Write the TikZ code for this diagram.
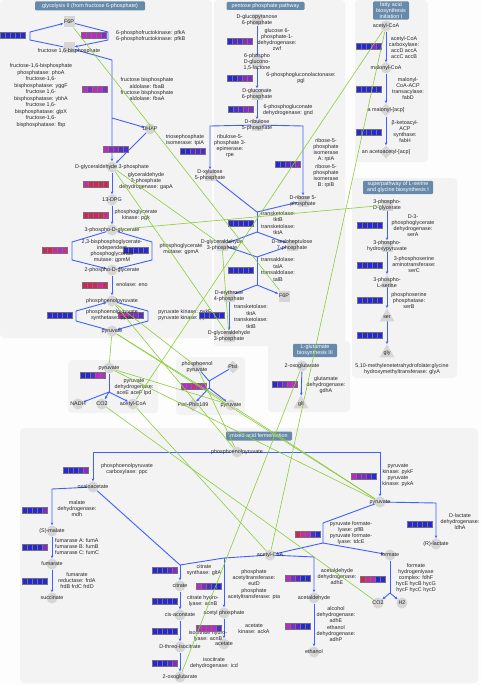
\documentclass[tikz,border=0pt]{standalone}
\usepackage{fontspec}
\setmainfont{Liberation Sans}
\usetikzlibrary{arrows.meta,shapes.geometric}
\definecolor{bgc}{RGB}{253,253,253}
\definecolor{panc}{RGB}{243,243,243}
\definecolor{mg}{RGB}{214,214,214}
\definecolor{blc}{RGB}{64,96,255}
\definecolor{grc}{RGB}{140,205,60}
\definecolor{ttc}{RGB}{104,138,170}
\definecolor{bA}{RGB}{38,38,220}
\definecolor{bB}{RGB}{85,40,215}
\definecolor{bC}{RGB}{135,40,205}
\definecolor{bD}{RGB}{190,40,200}
\definecolor{bE}{RGB}{210,40,150}
\definecolor{bF}{RGB}{215,35,90}
\pgfdeclarelayer{bg}\pgfdeclarelayer{ln}\pgfdeclarelayer{top}
\pgfsetlayers{bg,ln,main,top}
\newcommand\xpbar[7]{%
 \draw[bar,fill=#3] (#1,#2) rectangle ++(5,6);
 \draw[bar,fill=#4] (#1+5,#2) rectangle ++(5,6);
 \draw[bar,fill=#5] (#1+10,#2) rectangle ++(5,6);
 \draw[bar,fill=#6] (#1+15,#2) rectangle ++(5,6);
 \draw[bar,fill=#7] (#1+20,#2) rectangle ++(5,6);}
\newcommand\metc[4]{\node[mc,label={[lb]center:{#4}}] (#1) at (#2,#3) {};}
\newcommand\mets[4]{\node[ms,label={[lb]center:{#4}}] (#1) at (#2,#3) {};}
\newcommand\metd[4]{\node[md,label={[lb]center:{#4}}] (#1) at (#2,#3) {};}
\newcommand\mett[4]{\node[mt,label={[lb]center:{#4}}] (#1) at (#2,#3) {};}
\begin{document}
\begin{tikzpicture}[x=1pt,y=-1pt,
  lb/.style={font=\fontsize{5.4}{6}\selectfont, align=center, inner sep=0pt, text=black!85},
  mc/.style={circle, fill=mg, minimum size=11pt, inner sep=0pt},
  ms/.style={rectangle, fill=mg, minimum size=11pt, inner sep=0pt},
  md/.style={diamond, fill=mg, minimum size=13pt, inner sep=0pt},
  mt/.style={regular polygon, regular polygon sides=3, fill=mg, minimum size=17pt, inner sep=0pt},
  bl/.style={draw=blc, line width=0.9pt},
  ar/.style={-{Stealth[length=3pt,width=2.6pt]}},
  gl/.style={draw=grc, line width=0.6pt},
  bar/.style={draw=black!55, line width=0.3pt},
  pan/.style={fill=panc, rounded corners=4pt},
  ttl/.style={fill=ttc, text=white, rounded corners=1.2pt, inner sep=1.2pt, align=center, font=\fontsize{5.4}{6}\selectfont}]
\useasboundingbox (0,0) rectangle (481,685);
\begin{pgfonlayer}{bg}
\fill[bgc] (0,0) rectangle (481,685);
\fill[pan] (0,0) rectangle (212,338);
\fill[pan] (214,0) rectangle (345,346);
\fill[pan] (355,0) rectangle (428,162);
\fill[pan] (352,178) rectangle (457,378);
\fill[pan] (68,360) rectangle (158,413);
\fill[pan] (176,357) rectangle (245,415);
\fill[pan] (268,341) rectangle (350,412);
\fill[pan] (20,428) rectangle (478,683);
\end{pgfonlayer}
% titles
\node[ttl, minimum width=110pt, minimum height=9pt] (t1) at (90,6) {glycolysis II (from fructose 6-phosphate)};
\node[ttl, minimum width=78pt, minimum height=8pt] (t2) at (265.5,6) {pentose phosphate pathway};
\node[ttl, minimum width=36pt] (t3) at (391,10.5) {fatty acid\\biosynthesis\\initiation I};
\node[ttl, minimum width=70pt] (t4) at (398,187.5) {superpathway of L-serine\\and glycine biosynthesis I};
\node[ttl, minimum width=44pt] (t5) at (315,350.5) {L-glutamate\\biosynthesis III};
\node[ttl, minimum width=66pt, minimum height=9pt] (t6) at (259,436) {mixed acid fermentation};
% bars
\xpbar{0}{32}{bA}{bA}{bA}{bA}{bA}
\xpbar{81}{32}{bD}{bD}{bD}{bD}{bC}
\xpbar{82}{86}{bD}{bC}{bD}{bD}{bC}
\xpbar{103}{146}{bD}{bC}{bC}{bB}{bB}
\xpbar{83}{181}{bE}{bF}{bF}{bF}{bF}
\xpbar{83}{212}{bF}{bF}{bF}{bF}{bE}
\xpbar{42}{247}{bF}{bF}{bE}{bD}{bE}
\xpbar{123}{247}{bA}{bA}{bA}{bA}{bA}
\xpbar{82}{282}{bF}{bF}{bF}{bE}{bF}
\xpbar{47}{312}{bA}{bA}{bA}{bA}{bA}
\xpbar{118}{312}{bD}{bD}{bC}{bC}{bB}
\xpbar{227}{38}{bA}{bB}{bB}{bC}{bC}
\xpbar{227}{75}{bA}{bA}{bB}{bC}{bC}
\xpbar{228}{106}{bA}{bB}{bB}{bC}{bC}
\xpbar{180}{148}{bA}{bA}{bB}{bB}{bB}
\xpbar{275}{161}{bA}{bA}{bB}{bB}{bC}
\xpbar{228}{220}{bA}{bA}{bA}{bA}{bA}
\xpbar{228}{267}{bA}{bA}{bA}{bA}{bA}
\xpbar{356}{43}{bA}{bA}{bA}{bC}{bB}
\xpbar{356}{86}{bA}{bA}{bA}{bA}{bA}
\xpbar{356}{129}{bA}{bA}{bA}{bA}{bA}
\xpbar{357}{222}{bA}{bA}{bA}{bA}{bA}
\xpbar{357}{262}{bA}{bA}{bA}{bA}{bA}
\xpbar{357}{297}{bA}{bA}{bA}{bA}{bA}
\xpbar{357}{332}{bA}{bA}{bA}{bA}{bA}
\xpbar{272}{381}{bA}{bB}{bC}{bD}{bD}
\xpbar{80}{372}{bA}{bA}{bB}{bD}{bD}
\xpbar{181}{383}{bD}{bD}{bE}{bD}{bD}
\xpbar{63}{467}{bA}{bA}{bA}{bB}{bC}
\xpbar{22}{507}{bA}{bA}{bA}{bA}{bC}
\xpbar{22}{544}{bA}{bA}{bA}{bA}{bC}
\xpbar{22}{578}{bA}{bA}{bA}{bA}{bA}
\xpbar{351}{473}{bD}{bC}{bC}{bB}{bA}
\xpbar{407}{521}{bA}{bA}{bA}{bA}{bA}
\xpbar{295}{531}{bF}{bE}{bD}{bB}{bA}
\xpbar{360}{576}{bF}{bE}{bD}{bA}{bA}
\xpbar{152}{567}{bA}{bA}{bA}{bB}{bC}
\xpbar{152}{598}{bA}{bA}{bA}{bA}{bA}
\xpbar{152}{628}{bA}{bA}{bA}{bA}{bA}
\xpbar{152}{660}{bA}{bA}{bA}{bB}{bC}
\xpbar{196}{583}{bD}{bC}{bB}{bA}{bA}
\xpbar{285}{575}{bD}{bC}{bB}{bA}{bA}
\xpbar{285}{623}{bD}{bC}{bB}{bA}{bA}
% glycolysis metabolites
\mets{f6p}{69}{22}{F6P}
\node[ms,label={[lb,yshift=-3pt]center:{fructose 1,6-bisphosphate}}] (fbp) at (69,48) {};
\metc{dhap}{150}{129}{DHAP}
\metc{g3p}{112}{167}{D-glyceraldehyde 3-phosphate}
\metc{dpg}{112}{200}{13-DPG}
\metc{pg3}{112}{230}{3-phospho-D-glycerate}
\metc{pg2}{112}{270}{2-phospho-D-glycerate}
\metc{pep}{112}{301}{phosphoenolpyruvate}
\metc{pyr}{112}{331}{pyruvate}
% glycolysis labels
\node[lb, align=left, anchor=west] (lpfk) at (116,36) {6-phosphofructokinase: pfkA\\6-phosphofructokinase: pfkB};
\node[lb, font=\fontsize{5.4}{6.5}\selectfont] (lfbp) at (41,95.5) {fructose-1,6-bisphosphate\\phosphatase: phoA\\fructose-1,6-\\bisphosphatase: yggF\\fructose 1,6-\\bisphosphatase: ybhA\\fructose 1,6-\\bisphosphatase: glpX\\fructose-1,6-\\bisphosphatase: fbp};
\node[lb, font=\fontsize{5.4}{6.3}\selectfont] (lfba) at (147,89.5) {fructose bisphosphate\\aldolase: fbaB\\fructose bisphosphate\\aldolase: fbaA};
\node[lb] (ltpi) at (185,140) {triosephosphate\\isomerase: tpiA};
\node[lb] (lgap) at (146,181.5) {glyceraldehyde\\3-phosphate\\dehydrogenase: gapA};
\node[lb] (lpgk) at (136,215.5) {phosphoglycerate\\kinase: pgk};
\node[lb] (lgpm) at (112,251) {2,3-bisphosphoglycerate-\\independent\\phosphoglycerate\\mutase: gpmM};
\node[lb] (lgpa) at (181,249) {phosphoglycerate\\mutase: gpmA};
\node[lb] (leno) at (132,285) {enolase: eno};
\node[lb] (lpps) at (112,315) {phosphoenolpyruvate\\synthetase: ppsA};
\node[lb] (lpyk) at (185,315) {pyruvate kinase: pykF\\pyruvate kinase: pykA};
\xpbar{199}{312}{bA}{bA}{bA}{bA}{bA}
% pentose
\mets{g6p}{257}{20}{D-glucopyranose\\6-phosphate}
\mets{pgln}{257}{62}{6-phospho\\D-glucono-\\1,5-lactone}
\mets{glcn}{257}{94}{D-gluconate\\6-phosphate}
\mets{ru5p}{257}{125}{D-ribulose\\5-phosphate}
\mets{xu5p}{210}{175}{D-xylulose\\5-phosphate}
\mets{r5p}{303}{201}{D-ribose 5-\\phosphate}
\mets{g3pp}{222}{245}{D-glyceraldehyde\\3-phosphate}
\mets{s7p}{292}{245}{D-sedoheptulose\\7-phosphate}
\mets{e4p}{229}{296}{D-erythrose\\4-phosphate}
\mets{f6pp}{284}{296}{F6P}
\mets{g3pq}{229}{336}{D-glyceraldehyde\\3-phosphate}
\node[lb] (lzwf) at (277,40) {glucose 6-\\phosphate-1-\\dehydrogenase:\\zwf};
\node[lb] (lpgl) at (301,78) {6-phosphogluconolactonase:\\pgl};
\node[lb] (lgnd) at (288,110) {6-phosphogluconate\\dehydrogenase: gnd};
\node[lb] (lrpe) at (230,146) {ribulose-5-\\phosphate 3-\\epimerase:\\rpe};
\node[lb] (lrpa) at (326,150) {ribose-5-\\phosphate\\isomerase\\A: rpiA};
\node[lb] (lrpb) at (326,176) {ribose-5-\\phosphate\\isomerase\\B: rpiB};
\node[lb, font=\fontsize{5.4}{6.5}\selectfont] (ltk1) at (278,223) {transketolase:\\tktB\\transketolase:\\tktA};
\node[lb, font=\fontsize{5.4}{6.5}\selectfont] (ltal) at (278,269.5) {transaldolase:\\talA\\transaldolase:\\talB};
\node[lb, font=\fontsize{5.4}{6.5}\selectfont] (ltk2) at (251,316.5) {transketolase:\\tktA\\transketolase:\\tktB};
% fatty acid
\metc{acf}{386}{26}{acetyl-CoA}
\metc{mal}{386}{68}{malonyl-CoA}
\metd{macp}{386}{110}{a malonyl-[acp]}
\metd{aacp}{386}{152}{an acetoacetyl-[acp]}
\node[lb] (lacc) at (404,48) {acetyl-CoA\\carboxylase:\\accD accA\\accC accB};
\node[lb] (lfabd) at (408,89) {malonyl-\\CoA-ACP\\transacylase:\\fabD};
\node[lb] (lfabh) at (405,132) {β-ketoacyl-\\ACP\\synthase:\\fabH};
% serine
\mets{pgs}{387}{205}{3-phospho-\\D-glycerate}
\mets{php}{387}{246}{3-phospho-\\hydroxypyruvate}
\mett{pser}{387}{283}{3-phospho-\\L-serine}
\mett{ser}{387}{317}{ser}
\mett{gly}{387}{353}{gly}
\node[lb] (lsera) at (413,225.5) {D-3-\\phosphoglycerate\\dehydrogenase:\\serA};
\node[lb] (lserc) at (414,265) {3-phosphoserine\\aminotransferase:\\serC};
\node[lb] (lserb) at (409,301) {phosphoserine\\phosphatase:\\serB};
\node[lb] (lgly) at (402,369) {5,10-methylenetetrahydrofolate:glycine\\hydroxymethyltransferase: glyA};
% glutamate
\metc{og}{302}{366}{2-oxoglutarate}
\mett{glt}{301}{404}{glt}
\node[lb] (lgdh) at (326,385) {glutamate\\dehydrogenase:\\gdhA};
% PDH
\metc{pyrd}{109}{368}{pyruvate}
\metc{nadh}{78}{404}{NADH}
\metc{co2d}{102}{404}{CO2}
\metc{acd}{133}{404}{acetyl-CoA}
\node[lb] (lpdh) at (134,387) {pyruvate\\dehydrogenase:\\aceE aceF lpd};
% PTS
\metc{pepp}{197}{367}{phosphoenol\\pyruvate}
\metd{ptsi}{233}{367}{PtsI}
\metd{ptsp}{193}{405}{PtsI-Phis189}
\metc{pyrp}{231}{405}{pyruvate}
% mixed acid
\metc{pepm}{237}{452}{phosphoenolpyruvate}
\metc{oaa}{93}{487}{oxaloacetate}
\metc{malm}{52}{531}{(S)-malate}
\metc{fum}{52}{564}{fumarate}
\metc{suc}{52}{598}{succinate}
\metc{cit}{180}{586}{citrate}
\metc{cis}{180}{615}{cis-aconitate}
\metc{icit}{180}{647}{D-threo-isocitrate}
\metc{ogm}{180}{677}{2-oxoglutarate}
\metc{acm}{270}{555}{acetyl-CoA}
\metc{acp}{224}{613}{acetyl phosphate}
\metc{ace}{224}{644}{acetate}
\metc{acald}{314}{598}{acetaldehyde}
\metc{eth}{314}{652}{ethanol}
\metc{pyrm}{380}{502}{pyruvate}
\metc{lac}{436}{544}{(R)-lactate}
\metc{frm}{390}{555}{formate}
\metc{co2m}{378}{603}{CO2}
\metc{h2}{402}{603}{H2}
\node[lb] (lppc) at (127,469) {phosphoenolpyruvate\\carboxylase: ppc};
\node[lb] (lmdh) at (77,509) {malate\\dehydrogenase:\\mdh};
\node[lb, align=left, anchor=west] (lfum) at (55,547) {fumarase A: fumA\\fumarase B: fumB\\fumarase C: fumC};
\node[lb] (lfrd) at (77,581) {fumarate\\reductase: frdA\\frdB frdC frdD};
\node[lb] (lglt) at (204,570) {citrate\\synthase: gltA};
\node[lb] (lacn) at (203,601) {citrate hydro-\\lyase: acnB};
\node[lb] (lacn2) at (208,636) {isocitrate hydro-\\lyase: acnB};
\node[lb] (licd) at (214,663) {isocitrate\\dehydrogenase: icd};
\node[lb] (leut) at (254,578) {phosphate\\acetyltransferase:\\eutD};
\node[lb] (lpta) at (254,594) {phosphate\\acetyltransferase: pta};
\node[lb] (lack) at (254,629) {acetate\\kinase: ackA};
\xpbar{196}{625}{bD}{bD}{bD}{bD}{bB}
\node[lb] (ladh1) at (337,577) {acetaldehyde\\dehydrogenase:\\adhE};
\node[lb] (ladh2) at (336,615) {alcohol\\dehydrogenase:\\adhE};
\node[lb] (ladh3) at (336,634) {ethanol\\dehydrogenase:\\adhP};
\node[lb] (lpykm) at (398,475) {pyruvate\\kinase: pykF\\pyruvate\\kinase: pykA};
\node[lb] (lldh) at (460,522) {D-lactate\\dehydrogenase:\\ldhA};
\node[lb] (lpfl) at (351,533.5) {pyruvate formate-\\lyase: pflB\\pyruvate formate-\\lyase: tdcE};
\node[lb] (lfhl) at (416,578.5) {formate\\hydrogenlyase\\complex: fdhF\\hycE hycB hycG\\hycF hycC hycD};
% coordinates
\coordinate (pl1) at (30,32); \coordinate (pl2) at (30,40);
\coordinate (pr1) at (108,32); \coordinate (pr2) at (108,40);
\coordinate (fa1) at (112,60); \coordinate (fa2) at (112,118);
\coordinate (gl1) at (72,242); \coordinate (gl2) at (72,260);
\coordinate (gr1) at (152,242); \coordinate (gr2) at (152,260);
\coordinate (hl1) at (76,311); \coordinate (hl2) at (76,321);
\coordinate (hr1) at (148,311); \coordinate (hr2) at (148,321);
\coordinate (rl) at (210,126); \coordinate (rr) at (303,126);
\coordinate (tk1) at (257,212); \coordinate (tk2) at (257,232);
\coordinate (ta1) at (257,257); \coordinate (ta2) at (257,285);
\coordinate (pdj) at (109,392);
\coordinate (ptj1) at (209,381); \coordinate (ptj2) at (209,388);
\coordinate (ml) at (93,452); \coordinate (mr) at (380,452);
\coordinate (oml) at (52,489);
\coordinate (cj) at (180,565); \coordinate (ca) at (224,558); \coordinate (cb) at (314,557);
\coordinate (lr) at (436,503);
\coordinate (pf1) at (323,523); \coordinate (pf2) at (323,543);
\coordinate (fj) at (390,593);
\begin{pgfonlayer}{ln}
% glycolysis
\draw[bl,ar] (fbp) -- (pl2) -- (pl1) -- (f6p);
\draw[bl,ar] (f6p) -- (pr1) -- (pr2) -- (fbp);
\draw[bl,ar] (fbp) -- (fa1) -- (g3p);
\draw[bl,ar] (fa2) -- (dhap);
\draw[bl,ar] (dhap) -- (g3p);
\draw[bl,ar] (g3p) -- (dpg);
\draw[bl,ar] (dpg) -- (pg3);
\draw[bl,ar] (pg3) -- (gl1) -- (gl2) -- (pg2);
\draw[bl,ar] (pg3) -- (gr1) -- (gr2) -- (pg2);
\draw[bl,ar] (pg2) -- (pep);
\draw[bl,ar] (pyr) -- (hl2) -- (hl1) -- (pep);
\draw[bl,ar] (pep) -- (hr1) -- (hr2) -- (pyr);
% pentose
\draw[bl,ar] (g6p) -- (pgln);
\draw[bl,ar] (pgln) -- (glcn);
\draw[bl,ar] (glcn) -- (ru5p);
\draw[bl,ar] (ru5p) -- (rl) -- (xu5p);
\draw[bl,ar] (ru5p) -- (rr) -- (r5p);
\draw[bl] (xu5p) -- (tk1);
\draw[bl] (r5p) -- (tk1);
\draw[bl] (tk1) -- (tk2);
\draw[bl,ar] (tk2) -- (g3pp);
\draw[bl,ar] (tk2) -- (s7p);
\draw[bl] (g3pp) -- (ta1);
\draw[bl] (s7p) -- (ta1);
\draw[bl] (ta1) -- (ta2);
\draw[bl,ar] (ta2) -- (e4p);
\draw[bl,ar] (ta2) -- (f6pp);
\draw[bl,ar] (e4p) -- (g3pq);
% fatty acid
\draw[bl,ar] (acf) -- (mal);
\draw[bl,ar] (mal) -- (macp);
\draw[bl,ar] (macp) -- (aacp);
% serine
\draw[bl,ar] (pgs) -- (php);
\draw[bl,ar] (php) -- (pser);
\draw[bl,ar] (pser) -- (ser);
\draw[bl,ar] (ser) -- (gly);
% glutamate
\draw[bl,ar] (og) -- (glt);
% PDH
\draw[bl] (pyrd) -- (pdj);
\draw[bl,ar] (pdj) -- (nadh);
\draw[bl,ar] (pdj) -- (co2d);
\draw[bl,ar] (pdj) -- (acd);
% PTS
\draw[bl] (pepp) -- (ptj1);
\draw[bl] (ptsi) -- (ptj1);
\draw[bl] (ptj1) -- (ptj2);
\draw[bl,ar] (ptj2) -- (ptsp);
\draw[bl,ar] (ptj2) -- (pyrp);
% mixed
\draw[bl,ar] (pepm) -- (ml) -- (oaa);
\draw[bl,ar] (pepm) -- (mr) -- (pyrm);
\draw[bl,ar] (oaa) -- (oml) -- (malm);
\draw[bl,ar] (malm) -- (fum);
\draw[bl,ar] (fum) -- (suc);
\draw[bl] (oaa) -- (cj);
\draw[bl] (cj) -- (ca) -- (acm);
\draw[bl,ar] (acm) -- (cb) -- (acald);
\draw[bl,ar] (ca) -- (acp);
\draw[bl,ar] (acp) -- (ace);
\draw[bl,ar] (cj) -- (cit);
\draw[bl,ar] (cit) -- (cis);
\draw[bl,ar] (cis) -- (icit);
\draw[bl,ar] (icit) -- (ogm);
\draw[bl,ar] (acald) -- (eth);
\draw[bl,ar] (pyrm) -- (lr) -- (lac);
\draw[bl] (pyrm) -- (pf1) -- (pf2);
\draw[bl,ar] (pf2) -- (frm);
\draw[bl,ar] (pf2) -- (acm);
\draw[bl] (frm) -- (fj);
\draw[bl,ar] (fj) -- (co2m);
\draw[bl,ar] (fj) -- (h2);
\end{pgfonlayer}
\begin{pgfonlayer}{top}
\draw[gl] (f6p) -- (f6pp);
\draw[gl] (g3p) -- (g3pp);
\draw[gl] (g3p) -- (g3pq);
\draw[gl] (g3pp) -- (g3pq);
\draw[gl] (pg3) -- (pgs);
\draw[gl] (pep) -- (pepp);
\draw[gl] (pep) -- (pepm);
\draw[gl] (pepp) -- (pepm);
\draw[gl] (pyr) -- (pyrd);
\draw[gl] (pyr) -- (pyrp);
\draw[gl] (pyr) -- (pyrm);
\draw[gl] (pyrd) -- (pyrp);
\draw[gl] (pyrd) -- (pyrm);
\draw[gl] (pyrp) -- (pyrm);
\draw[gl] (acf) -- (acd);
\draw[gl] (acf) -- (acm);
\draw[gl] (acd) -- (acm);
\draw[gl] (og) -- (ogm);
\draw[gl] (co2d) -- (co2m);
\end{pgfonlayer}
\end{tikzpicture}
\end{document}
